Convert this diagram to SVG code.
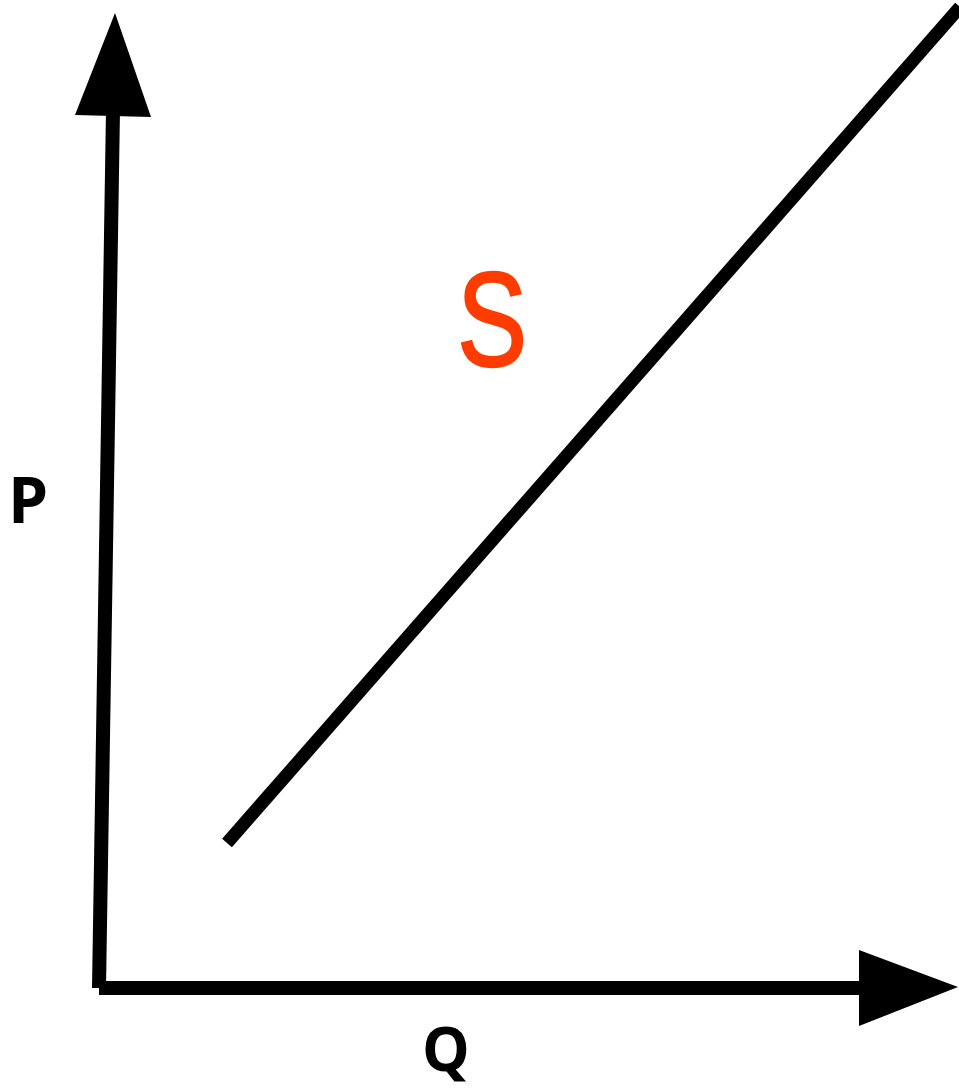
<svg xmlns="http://www.w3.org/2000/svg" width="959" height="1089" viewBox="0 0 959 1089">
<style>
.ax{stroke:#000;stroke-width:14;fill:none}
.hd{fill:#000}
.lbl{font-family:"Open Sans","Liberation Sans",sans-serif;font-weight:bold;fill:#000}
</style>
<rect width="959" height="1089" fill="#fff"/>
<g id="connectors">
<line class="ax" x1="99" y1="988" x2="113" y2="110"/>
<polygon class="hd" points="115,13 75,115 151,117"/>
<line class="ax" x1="99" y1="988" x2="862" y2="988"/>
<polygon class="hd" points="958,987 859,950 859,1026"/>
</g>
<g id="supply">
<line x1="227" y1="843" x2="960" y2="7" stroke="#000" stroke-width="13"/>
</g>
<g id="label-S">
<text transform="translate(492,366) scale(0.78,1)" text-anchor="middle" font-family="Liberation Sans, sans-serif" font-size="134" fill="#FF3C00" stroke="#FF3C00" stroke-width="2.5">S</text>
</g>
<g id="label-P">
<text class="lbl" x="8" y="523" font-size="64">P</text>
</g>
<g id="label-Q">
<text class="lbl" x="446" y="1071" font-size="60" text-anchor="middle">Q</text>
</g>
</svg>
